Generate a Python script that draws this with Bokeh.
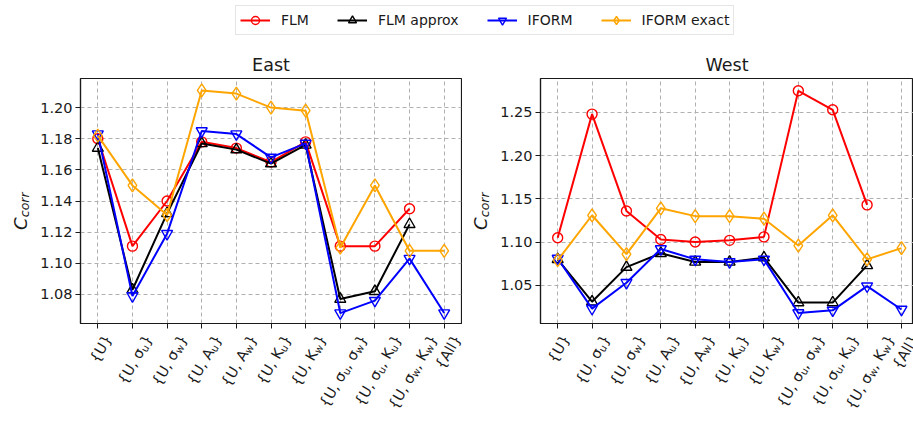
import math

from bokeh.core.properties import value
from bokeh.embed import file_html
from bokeh.layouts import column, row
from bokeh.models import (ColumnDataSource, FixedTicker, Legend, LegendItem,
                          PrintfTickFormatter, Range1d)
from bokeh.plotting import figure
from bokeh.resources import INLINE

# ---------------------------------------------------------------- data
# "_x" marks a one-character subscript
categories = ["{U}", "{U, σ_u}", "{U, σ_w}", "{U, A_u}", "{U, A_w}",
              "{U, K_u}", "{U, K_w}", "{U, σ_u, σ_w}", "{U, σ_u, K_u}",
              "{U, σ_w, K_w}", "{All}"]

series_names = ["FLM", "FLM approx", "IFORM", "IFORM exact"]

east_flm = [1.180, 1.111, 1.140, 1.178, 1.174, 1.165, 1.178, 1.111, 1.111, 1.135]
east_flm_approx = [1.174, 1.083, 1.132, 1.177, 1.173, 1.164, 1.176, 1.077, 1.082, 1.125]
east_iform = [1.183, 1.079, 1.119, 1.185, 1.183, 1.168, 1.177, 1.068, 1.076, 1.103, 1.068]
east_iform_exact = [1.182, 1.150, 1.131, 1.211, 1.209, 1.200, 1.198, 1.110, 1.150, 1.108, 1.108]

west_flm = [1.105, 1.248, 1.136, 1.103, 1.100, 1.102, 1.106, 1.275, 1.253, 1.143]
west_flm_approx = [1.080, 1.031, 1.071, 1.087, 1.077, 1.077, 1.082, 1.030, 1.030, 1.073]
west_iform = [1.081, 1.023, 1.053, 1.092, 1.080, 1.077, 1.080, 1.018, 1.021, 1.049, 1.022]
west_iform_exact = [1.079, 1.131, 1.086, 1.139, 1.130, 1.130, 1.127, 1.096, 1.131, 1.080, 1.093]

east_yticks = [1.08, 1.10, 1.12, 1.14, 1.16, 1.18, 1.20]
west_yticks = [1.05, 1.10, 1.15, 1.20, 1.25]

# ---------------------------------------------------------------- style
FONT = "DejaVu Sans"
TEXT_COLOR = "#1a1a1a"
TICK_FS = 14.5
SUB_FS = TICK_FS * 0.7
SUB_DROP = 0.22 * TICK_FS
ANGLE = 60.0
GAP = 1.0          # from top of label strip to top of rotated labels

TOTAL_W = 913
LEGEND_H = 42
PLOT_H = 287       # height of each data panel
STRIP_H = 94       # height of the category-label strip

YLAB_E_W, E_W, E_BL, E_BR = 37, 425, 42, 1
YLAB_W_W, W_W, W_BL, W_BR = 35, 416, 40, 0
E_XR = (-0.5, 10.5)
W_XR = (-0.5, 10.35)

STYLES = [  # color, marker, size
    ("#ff0000", "circle", 10),
    ("#000000", "triangle", 11),
    ("#0000ff", "inverted_triangle", 11),
    ("#ffa500", "diamond", 13),
]

# DejaVu Sans advance widths (em)
EM = {"{": 0.636, "}": 0.636, "U": 0.732, ",": 0.318, " ": 0.318,
      "σ": 0.634, "A": 0.684, "K": 0.656, "l": 0.278, "u": 0.634,
      "w": 0.818}


def split_label(label):
    segs, buf, i = [], "", 0
    while i < len(label):
        ch = label[i]
        if ch == "_":
            if buf:
                segs.append((buf, False))
                buf = ""
            segs.append((label[i + 1], True))
            i += 2
            continue
        buf += ch
        i += 1
    if buf:
        segs.append((buf, False))
    return segs


def tick_label_source(labels):
    """Rotated label pieces; y is in strip pixels (0 = strip top)."""
    th = math.radians(ANGLE)
    c, s = math.cos(th), math.sin(th)
    rows = dict(x=[], y=[], text=[], xo=[], size=[])
    for k, lab in enumerate(labels):
        segs = split_label(lab)
        advs = [sum(EM[ch] for ch in txt) * (SUB_FS if sub else TICK_FS)
                for txt, sub in segs]
        L = sum(advs)
        has_sub = any(sub for _, sub in segs)
        t_top = 0.76 * TICK_FS
        t_bot = -max(0.13 * TICK_FS, SUB_DROP if has_sub else 0.0)
        bx = -L * c / 2 + (t_top + t_bot) * s / 2
        by = GAP + L * s + t_top * c
        a = 0.0
        for (txt, sub), w in zip(segs, advs):
            dx = bx + a * c + (SUB_DROP * s if sub else 0.0)
            dy = by - a * s + (SUB_DROP * c if sub else 0.0)
            rows["x"].append(k)
            rows["y"].append(-dy)
            rows["text"].append(txt)
            rows["xo"].append(dx)
            rows["size"].append(f"{SUB_FS if sub else TICK_FS:.2f}px")
            a += w
    return ColumnDataSource(rows)


def blank(fig):
    fig.grid.visible = False
    fig.outline_line_color = None
    fig.background_fill_color = "white"
    fig.border_fill_color = "white"


def make_panel(title, series, yticks, yr, xr, width, border_left,
               border_right):
    p = figure(width=width, height=PLOT_H, output_backend="svg",
               toolbar_location=None, x_range=Range1d(*xr),
               y_range=Range1d(*yr), min_border_left=border_left,
               min_border_right=border_right, min_border_top=36,
               min_border_bottom=6)
    p.title.text = title
    p.title.align = "center"
    p.title.text_font = FONT
    p.title.text_font_size = "17.5px"
    p.title.text_font_style = "normal"
    p.title.text_color = TEXT_COLOR
    p.title.standoff = 8

    p.background_fill_color = "white"
    p.border_fill_color = "white"
    p.outline_line_color = TEXT_COLOR
    p.outline_line_width = 1.2

    for ax in (p.xaxis[0], p.yaxis[0]):
        ax.axis_line_color = TEXT_COLOR
        ax.axis_line_width = 1.2
        ax.major_tick_line_color = TEXT_COLOR
        ax.major_tick_out = 5
        ax.major_tick_in = 0
        ax.minor_tick_line_color = None
        ax.major_label_text_font = FONT
        ax.major_label_text_font_size = f"{TICK_FS}px"
        ax.major_label_text_color = TEXT_COLOR

    p.xaxis.ticker = FixedTicker(ticks=list(range(len(categories))))
    p.xaxis.major_label_overrides = {i: "" for i in range(len(categories))}
    p.xaxis.major_label_text_font_size = "0px"
    p.xaxis.major_label_standoff = 0
    p.yaxis.ticker = FixedTicker(ticks=yticks)
    p.yaxis.formatter = PrintfTickFormatter(format="%.2f")
    p.yaxis.major_label_standoff = 3

    for g in (p.xgrid[0], p.ygrid[0]):
        g.grid_line_color = "#b0b0b0"
        g.grid_line_dash = "4 3"
        g.grid_line_width = 1

    for vals, (color, marker, size) in zip(series, STYLES):
        xs = list(range(len(vals)))
        p.line(xs, vals, line_color=color, line_width=2)
        p.scatter(xs, vals, marker=marker, size=size, line_color=color,
                  fill_color=None, line_width=1.4)
    return p


def ylabel_strip(width, cx):
    """Vertical C_corr label; 1 data unit = 1 pixel, centred anchors."""
    f = figure(width=width, height=PLOT_H, output_backend="svg",
               toolbar_location=None, x_range=Range1d(0, width),
               y_range=Range1d(0, PLOT_H), x_axis_location=None,
               y_axis_location=None, min_border=0)
    blank(f)
    f.text(x=[cx], y=[117], text=["C"], angle=90, angle_units="deg",
           text_font=value(FONT), text_font_size="18px",
           text_font_style="italic", text_color=TEXT_COLOR,
           text_align="center", text_baseline="middle")
    f.text(x=[cx + 4.5], y=[139], text=["corr"], angle=90,
           angle_units="deg", text_font=value(FONT), text_font_size="12.5px",
           text_font_style="italic", text_color=TEXT_COLOR,
           text_align="center", text_baseline="middle")
    return f


def strip_range(xr, left, right):
    """Category range for the full-width strip, same scale as a panel."""
    k = (right - left) / (xr[1] - xr[0])
    return Range1d(xr[0] - left / k, xr[0] + (TOTAL_W - left) / k)


east = make_panel("East",
                  [east_flm, east_flm_approx, east_iform, east_iform_exact],
                  east_yticks, (1.0613, 1.2187), E_XR, E_W, E_BL, E_BR)
west = make_panel("West",
                  [west_flm, west_flm_approx, west_iform, west_iform_exact],
                  west_yticks, (1.0058, 1.2892), W_XR, W_W, W_BL, W_BR)

# ---------------------------------------------------------------- category labels
e_left = YLAB_E_W + E_BL
e_right = YLAB_E_W + E_W - E_BR
w_left = YLAB_E_W + E_W + YLAB_W_W + W_BL
w_right = w_left + (W_W - W_BL - W_BR)

strip = figure(width=TOTAL_W, height=STRIP_H, output_backend="svg",
               toolbar_location=None, x_range=Range1d(0, TOTAL_W),
               y_range=Range1d(-STRIP_H, 0), x_axis_location=None,
               y_axis_location=None, min_border=0)
blank(strip)
strip.extra_x_ranges = {"east": strip_range(E_XR, e_left, e_right),
                        "west": strip_range(W_XR, w_left, w_right)}
for rname in ("east", "west"):
    strip.text(x="x", y="y", text="text", x_offset="xo",
               source=tick_label_source(categories), x_range_name=rname,
               angle=ANGLE, angle_units="deg", text_font=value(FONT),
               text_font_size="size", text_color=TEXT_COLOR,
               text_align="left", text_baseline="alphabetic")

# ---------------------------------------------------------------- legend strip
leg = figure(width=TOTAL_W, height=LEGEND_H, output_backend="svg",
             toolbar_location=None, x_range=(0, 1), y_range=(0, 1),
             x_axis_location=None, y_axis_location=None, min_border=0)
blank(leg)
items = []
for name, (color, marker, size) in zip(series_names, STYLES):
    lr = leg.line([5, 6], [5, 6], line_color=color, line_width=2)
    sr = leg.scatter([5], [5], marker=marker, size=size, line_color=color,
                     fill_color=None, line_width=1.4)
    items.append(LegendItem(label=name, renderers=[lr, sr]))
legend = Legend(items=items, orientation="horizontal", location=(235, 7),
                label_text_font=FONT, label_text_font_size="14px",
                label_text_color=TEXT_COLOR, glyph_width=30, glyph_height=20,
                label_standoff=11, spacing=28, padding=4, margin=0,
                border_line_color="#cccccc", border_line_width=1,
                background_fill_color="white")
leg.add_layout(legend)

layout = column(leg,
                row(ylabel_strip(YLAB_E_W, 19.5), east,
                    ylabel_strip(YLAB_W_W, 17.5), west),
                strip)

with open("out.html", "w") as f:
    f.write(file_html(layout, INLINE))
